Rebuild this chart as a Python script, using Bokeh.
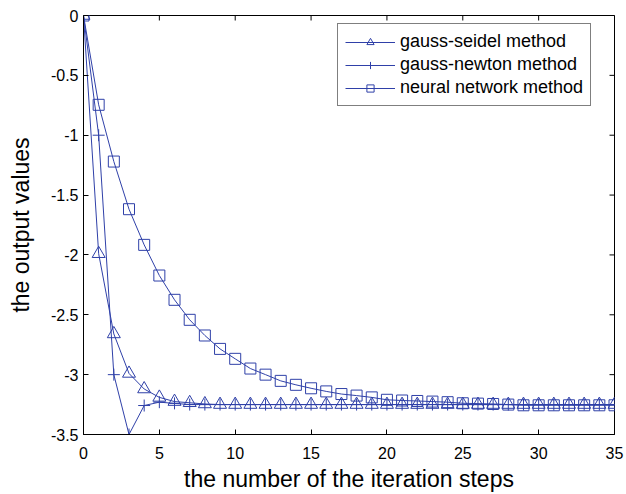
import math
from bokeh.plotting import figure
from bokeh.models import Range1d, FixedTicker, Legend, LegendItem, ColumnDataSource
from bokeh.embed import file_html
from bokeh.resources import INLINE

# ---- data ----
steps = [0, 1, 2, 3, 4, 5, 6, 7, 8, 9, 10, 11, 12, 13, 14, 15, 16, 17, 18, 19,
         20, 21, 22, 23, 24, 25, 26, 27, 28, 29, 30, 31, 32, 33, 34, 35]
gauss_seidel = [0.0, -1.99, -2.66, -2.99, -3.12, -3.19, -3.225, -3.235, -3.245, -3.25,
                -3.25, -3.25, -3.25, -3.25, -3.25, -3.25, -3.25, -3.25, -3.25, -3.25,
                -3.25, -3.25, -3.25, -3.25, -3.25, -3.25, -3.25, -3.25, -3.25, -3.25,
                -3.25, -3.25, -3.25, -3.25, -3.25, -3.25]
gauss_newton = [0.0, -1.0, -3.0, -3.5, -3.258, -3.23, -3.24, -3.25, -3.25, -3.25,
                -3.25, -3.25, -3.25, -3.25, -3.25, -3.25, -3.25, -3.25, -3.25, -3.25,
                -3.25, -3.25, -3.25, -3.25, -3.25, -3.25, -3.25, -3.25, -3.25, -3.25,
                -3.25, -3.25, -3.25, -3.25, -3.25, -3.25]
neural_network = [0.0, -0.746, -1.22, -1.618, -1.916, -2.172, -2.375, -2.542, -2.673, -2.785,
                  -2.868, -2.949, -3.0, -3.052, -3.085, -3.114, -3.14, -3.162, -3.175, -3.19,
                  -3.21, -3.216, -3.22, -3.225, -3.23, -3.239, -3.242, -3.245, -3.25, -3.256,
                  -3.256, -3.256, -3.256, -3.256, -3.256, -3.256]
series_labels = ["gauss-seidel method", "gauss-newton method", "neural network method"]
x_ticks = [0, 5, 10, 15, 20, 25, 30, 35]
x_tick_labels = ["0", "5", "10", "15", "20", "25", "30", "35"]
y_ticks = [0, -0.5, -1, -1.5, -2, -2.5, -3, -3.5]
y_tick_labels = ["0", "-0.5", "-1", "-1.5", "-2", "-2.5", "-3", "-3.5"]
x_title = "the number of the iteration steps"
y_title = "the output values"

X_MIN, X_MAX = 0, 35
Y_MIN, Y_MAX = -3.5, 0

FONT = "Liberation Sans"
COLOR = "#2f40a8"

p = figure(width=626, height=494, output_backend="svg", toolbar_location=None,
           x_range=Range1d(X_MIN, X_MAX), y_range=Range1d(Y_MIN, Y_MAX),
           min_border_left=83, min_border_right=12, min_border_top=15, min_border_bottom=60)
p.grid.visible = False
p.outline_line_color = "black"
p.outline_line_width = 1
p.background_fill_color = "white"
p.border_fill_color = "white"

src = ColumnDataSource(dict(x=steps, gs=gauss_seidel, gn=gauss_newton, nn=neural_network))

l1 = p.line("x", "gs", source=src, line_color=COLOR, line_width=1)
m1 = p.scatter("x", "gs", source=src, marker="triangle", size=13, line_color=COLOR,
               fill_color=None, line_width=1)
l2 = p.line("x", "gn", source=src, line_color=COLOR, line_width=1)
m2 = p.scatter("x", "gn", source=src, marker="cross", size=12, line_color=COLOR,
               line_width=1)
l3 = p.line("x", "nn", source=src, line_color=COLOR, line_width=1)
m3 = p.scatter("x", "nn", source=src, marker="square", size=11, line_color=COLOR,
               fill_color=None, line_width=1)

# inward tick marks on the top and right borders (MATLAB box style)
p.scatter(x=x_ticks, y=[Y_MAX for _ in x_ticks], marker="dash", angle=math.pi / 2,
          size=10, line_color="black", line_width=1)
p.scatter(x=[X_MAX for _ in y_ticks], y=y_ticks, marker="dash", size=10,
          line_color="black", line_width=1)

xa = p.xaxis[0]
xa.ticker = FixedTicker(ticks=x_ticks)
xa.major_label_overrides = {t: s for t, s in zip(x_ticks, x_tick_labels)}
xa.axis_label = x_title
xa.major_label_standoff = 12
xa.axis_label_standoff = 4

ya = p.yaxis[0]
ya.ticker = FixedTicker(ticks=y_ticks)
ya.major_label_overrides = {t: s for t, s in zip(y_ticks, y_tick_labels)}
ya.axis_label = y_title
ya.major_label_standoff = 5
ya.axis_label_standoff = 14

for ax in (xa, ya):
    ax.axis_line_color = "black"
    ax.axis_line_width = 1
    ax.major_tick_in = 5
    ax.major_tick_out = 0
    ax.major_tick_line_color = "black"
    ax.minor_tick_line_color = None
    ax.major_label_text_font = FONT
    ax.major_label_text_font_size = "16px"
    ax.major_label_text_color = "black"
    ax.axis_label_text_font = FONT
    ax.axis_label_text_font_size = "23px"
    ax.axis_label_text_font_style = "normal"
    ax.axis_label_text_color = "black"

legend = Legend(items=[
    LegendItem(label=series_labels[0], renderers=[l1, m1]),
    LegendItem(label=series_labels[1], renderers=[l2, m2]),
    LegendItem(label=series_labels[2], renderers=[l3, m3]),
], location=(254, 328))
legend.margin = 0
legend.padding = 7
legend.spacing = 2
legend.glyph_width = 50
legend.glyph_height = 18
legend.label_height = 18
legend.label_standoff = 5
legend.label_text_font = FONT
legend.label_text_font_size = "18px"
legend.label_text_color = "black"
legend.border_line_color = "black"
legend.border_line_width = 1
legend.background_fill_color = "white"
legend.background_fill_alpha = 1
p.add_layout(legend)

open("out.html", "w").write(file_html(p, INLINE))
